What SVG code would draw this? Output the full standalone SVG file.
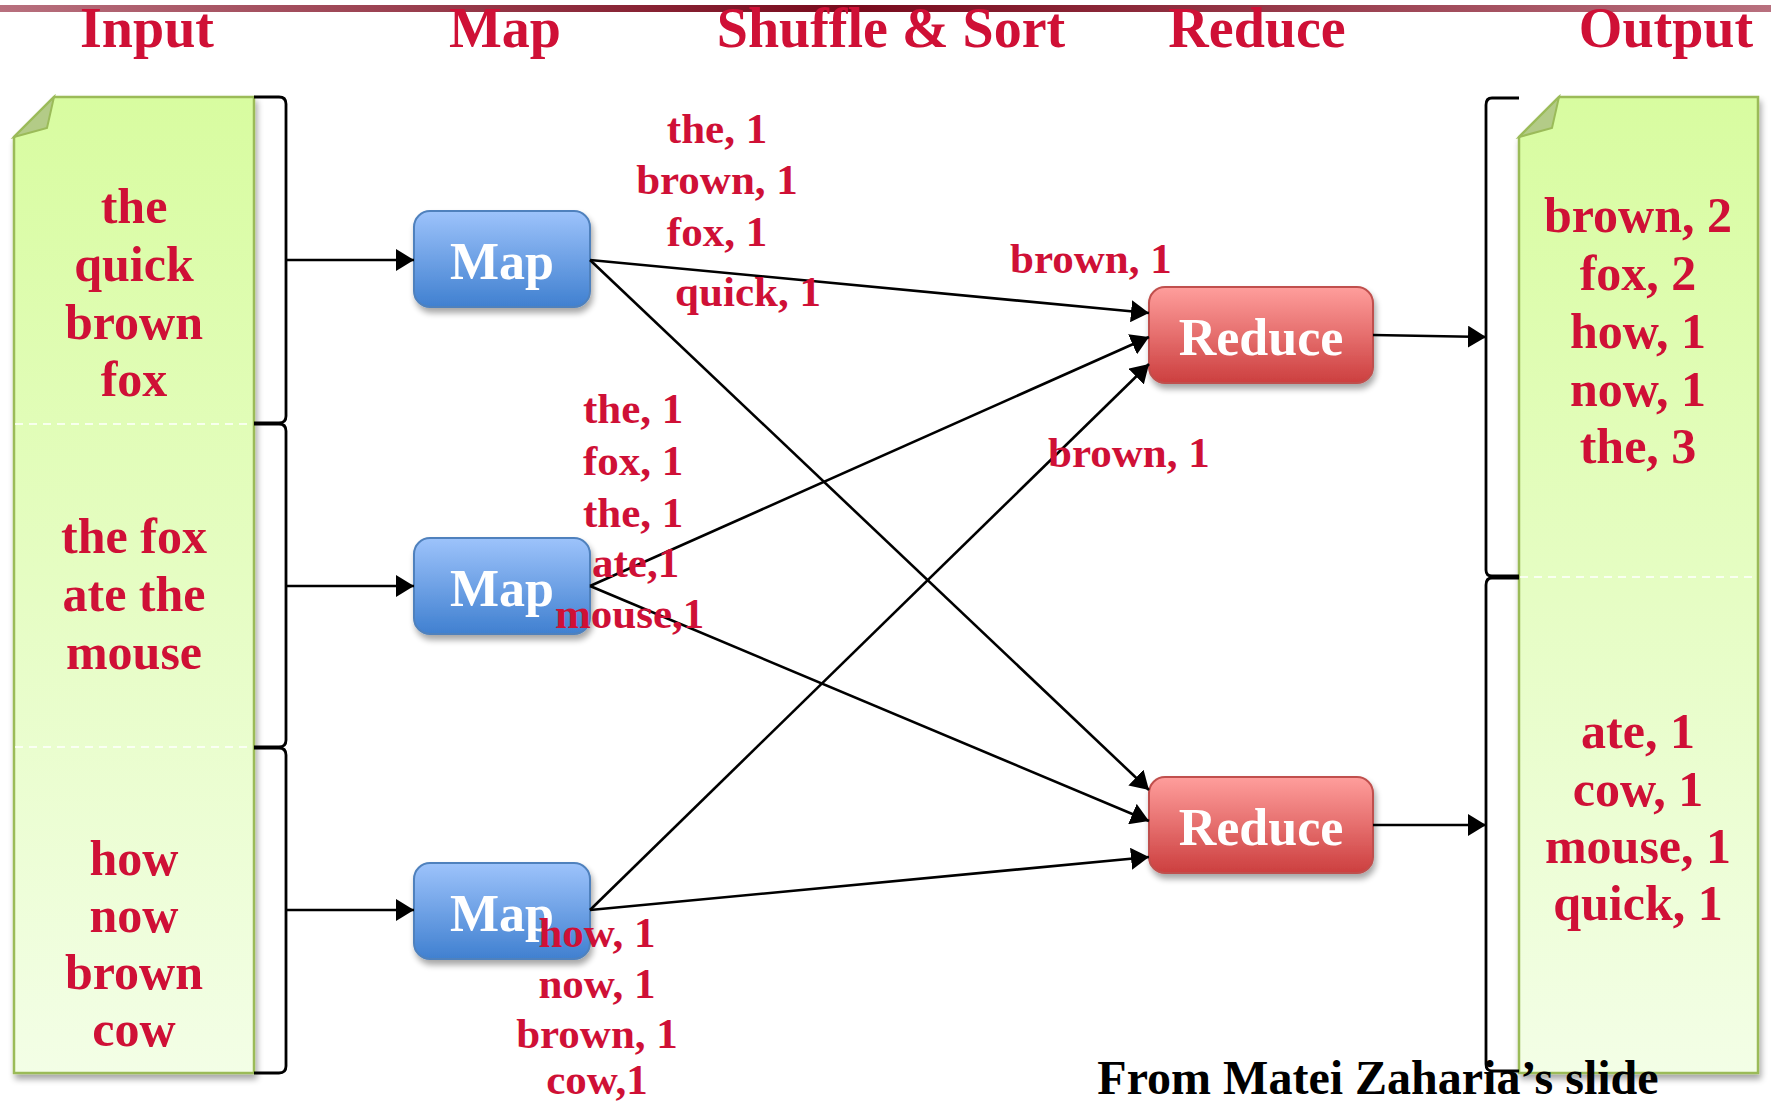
<svg xmlns="http://www.w3.org/2000/svg" width="1771" height="1105" viewBox="0 0 1771 1105">
<defs>
<style>
.hdr{font-family:"Liberation Serif",serif;font-weight:bold;font-size:56px;fill:#cf1036;text-anchor:middle}
.doc{font-family:"Liberation Serif",serif;font-weight:bold;font-size:50px;fill:#cf1036;text-anchor:middle}
.lbl{font-family:"Liberation Serif",serif;font-weight:bold;font-size:43px;fill:#cf1036}
.mid{text-anchor:middle}
.node{font-family:"Liberation Serif",serif;font-weight:bold;font-size:52px;fill:#ffffff;text-anchor:middle}
.conn{stroke:#000;stroke-width:2.6;fill:none;marker-end:url(#arr)}
.brk{stroke:#000;stroke-width:2.8;fill:none}
.dash{stroke:#ffffff;stroke-width:1.5;stroke-dasharray:8 6}
.page{fill:url(#gGreen);stroke:#9bbb59;stroke-width:2.5}
.fold{fill:#b3cb87;stroke:#9bbb59;stroke-width:2}
.map{fill:url(#gBlue);stroke:#4f81bd;stroke-width:2}
.red{fill:url(#gRed);stroke:#c0504d;stroke-width:2}
</style>
<linearGradient id="gBar" x1="0" y1="0" x2="1" y2="0">
<stop offset="0" stop-color="#b8707e"/>
<stop offset="0.48" stop-color="#780a1c"/>
<stop offset="1" stop-color="#b8707e"/>
</linearGradient>
<linearGradient id="gGreen" x1="0" y1="0" x2="0" y2="1">
<stop offset="0" stop-color="#d8fca0"/>
<stop offset="1" stop-color="#f3fee6"/>
</linearGradient>
<linearGradient id="gBlue" x1="0" y1="0" x2="0" y2="1">
<stop offset="0" stop-color="#9dc3fb"/>
<stop offset="1" stop-color="#4080d0"/>
</linearGradient>
<linearGradient id="gRed" x1="0" y1="0" x2="0" y2="1">
<stop offset="0" stop-color="#ff9e9c"/>
<stop offset="1" stop-color="#cc3f3f"/>
</linearGradient>
<filter id="sh" x="-10%" y="-10%" width="130%" height="140%">
<feGaussianBlur in="SourceAlpha" stdDeviation="3"/>
<feOffset dx="2" dy="5" result="b"/>
<feComponentTransfer><feFuncA type="linear" slope="0.35"/></feComponentTransfer>
<feMerge><feMergeNode/><feMergeNode in="SourceGraphic"/></feMerge>
</filter>
<marker id="arr" viewBox="0 0 18 22" refX="18" refY="11" markerWidth="18" markerHeight="22" markerUnits="userSpaceOnUse" orient="auto">
<path d="M0,0 L18,11 L0,22 z" fill="#000"/>
</marker>
</defs>
<rect x="0" y="0" width="1771" height="1105" fill="#ffffff"/>
<rect x="0" y="5" width="1771" height="7" fill="url(#gBar)"/>

<g id="headers">
<text class="hdr" x="147" y="47">Input</text>
<text class="hdr" x="505" y="47">Map</text>
<text class="hdr" x="891" y="47">Shuffle &amp; Sort</text>
<text class="hdr" x="1257" y="47">Reduce</text>
<text class="hdr" x="1666" y="47">Output</text>
</g>

<g id="input">
<path class="page" filter="url(#sh)" d="M54,97 L254,97 L254,1073 L14,1073 L14,137 Z"/>
<path class="fold" d="M14,137 L54,97 L47,128 Z"/>
<line class="dash" x1="15" y1="424" x2="253" y2="424"/>
<line class="dash" x1="15" y1="747" x2="253" y2="747"/>
<text class="doc" x="134" y="223">the</text>
<text class="doc" x="134" y="281">quick</text>
<text class="doc" x="134" y="339">brown</text>
<text class="doc" x="134" y="396">fox</text>
<text class="doc" x="134" y="553">the fox</text>
<text class="doc" x="134" y="611">ate the</text>
<text class="doc" x="134" y="669">mouse</text>
<text class="doc" x="134" y="875">how</text>
<text class="doc" x="134" y="932">now</text>
<text class="doc" x="134" y="989">brown</text>
<text class="doc" x="134" y="1046">cow</text>
</g>

<g id="input-brackets">
<path class="brk" d="M254,97 L279,97 Q286,97 286,104 L286,416 Q286,423 279,423 L254,423"/>
<path class="brk" d="M254,424 L279,424 Q286,424 286,431 L286,740 Q286,747 279,747 L254,747"/>
<path class="brk" d="M254,748 L279,748 Q286,748 286,755 L286,1066 Q286,1073 279,1073 L254,1073"/>
</g>

<g id="output">
<path class="page" filter="url(#sh)" d="M1559,97 L1758,97 L1758,1073 L1519,1073 L1519,137 Z"/>
<path class="fold" d="M1519,137 L1559,97 L1552,128 Z"/>
<line class="dash" x1="1520" y1="577" x2="1757" y2="577"/>
<text class="doc" x="1638" y="232">brown, 2</text>
<text class="doc" x="1638" y="290">fox, 2</text>
<text class="doc" x="1638" y="348">how, 1</text>
<text class="doc" x="1638" y="406">now, 1</text>
<text class="doc" x="1638" y="463">the, 3</text>
<text class="doc" x="1638" y="748">ate, 1</text>
<text class="doc" x="1638" y="806">cow, 1</text>
<text class="doc" x="1638" y="863">mouse, 1</text>
<text class="doc" x="1638" y="920">quick, 1</text>
</g>

<g id="output-brackets">
<path class="brk" d="M1519,98 L1492,98 Q1486,98 1486,105 L1486,570 Q1486,576 1492,576 L1519,576"/>
<path class="brk" d="M1519,578 L1492,578 Q1486,578 1486,585 L1486,1064 Q1486,1071 1492,1071 L1519,1071"/>
</g>

<g id="map1"><rect class="map" filter="url(#sh)" x="414" y="211" width="176" height="96" rx="16"/><text class="node" x="502" y="279">Map</text></g>
<g id="map2"><rect class="map" filter="url(#sh)" x="414" y="538" width="176" height="96" rx="16"/><text class="node" x="502" y="606">Map</text></g>
<g id="map3"><rect class="map" filter="url(#sh)" x="414" y="863" width="176" height="96" rx="16"/><text class="node" x="502" y="931">Map</text></g>
<g id="reduce1"><rect class="red" filter="url(#sh)" x="1149" y="287" width="224" height="96" rx="16"/><text class="node" x="1261" y="355">Reduce</text></g>
<g id="reduce2"><rect class="red" filter="url(#sh)" x="1149" y="777" width="224" height="96" rx="16"/><text class="node" x="1261" y="845">Reduce</text></g>

<g id="connectors">
<line class="conn" x1="286" y1="260" x2="414" y2="260"/>
<line class="conn" x1="286" y1="586" x2="414" y2="586"/>
<line class="conn" x1="286" y1="910" x2="414" y2="910"/>
<line class="conn" x1="590" y1="260" x2="1149" y2="313"/>
<line class="conn" x1="590" y1="260" x2="1149" y2="790"/>
<line class="conn" x1="590" y1="586" x2="1149" y2="337"/>
<line class="conn" x1="590" y1="586" x2="1149" y2="821"/>
<line class="conn" x1="590" y1="910" x2="1149" y2="364"/>
<line class="conn" x1="590" y1="910" x2="1149" y2="857"/>
<line class="conn" x1="1373" y1="335" x2="1486" y2="337"/>
<line class="conn" x1="1373" y1="825" x2="1486" y2="825"/>
</g>

<g id="labels">
<text class="lbl mid" x="717" y="143">the, 1</text>
<text class="lbl mid" x="717" y="194">brown, 1</text>
<text class="lbl mid" x="717" y="246">fox, 1</text>
<text class="lbl mid" x="748" y="306">quick, 1</text>
<text class="lbl" x="583" y="423">the, 1</text>
<text class="lbl" x="583" y="475">fox, 1</text>
<text class="lbl" x="583" y="527">the, 1</text>
<text class="lbl" x="592" y="577">ate,1</text>
<text class="lbl" x="555" y="628">mouse,1</text>
<text class="lbl" x="1010" y="273">brown, 1</text>
<text class="lbl" x="1048" y="467">brown, 1</text>
<text class="lbl mid" x="597" y="947">how, 1</text>
<text class="lbl mid" x="597" y="998">now, 1</text>
<text class="lbl mid" x="597" y="1048">brown, 1</text>
<text class="lbl mid" x="597" y="1094">cow,1</text>
</g>

<text x="1378" y="1094" style="font-family:'Liberation Serif',serif;font-weight:bold;font-size:48px;fill:#000;text-anchor:middle">From Matei Zaharia’s slide</text>
</svg>
